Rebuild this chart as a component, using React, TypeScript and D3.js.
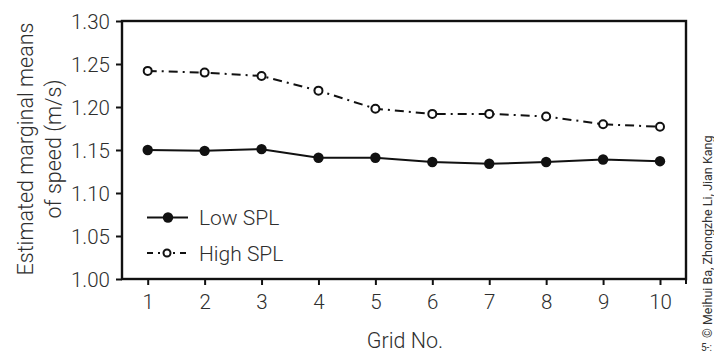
import React, { useEffect, useRef } from "react";
import * as d3 from "d3";

const grids = [1, 2, 3, 4, 5, 6, 7, 8, 9, 10];
const lowSPL = [1.150, 1.149, 1.151, 1.141, 1.141, 1.136, 1.134, 1.136, 1.139, 1.137];
const highSPL = [1.242, 1.240, 1.236, 1.219, 1.198, 1.192, 1.192, 1.189, 1.180, 1.177];
const yTicks = [1.0, 1.05, 1.1, 1.15, 1.2, 1.25, 1.3];
const legendLabels = ["Low SPL", "High SPL"];

const W = 714;
const H = 353;
const ink = "#111";
const txt = "#2e2e2e";
const font = "Roboto, 'DejaVu Sans', sans-serif";
const fw = 300;

export default function App() {
  const ref = useRef<SVGSVGElement>(null);

  useEffect(() => {
    const svg = d3.select(ref.current);
    svg.selectAll("*").remove();

    const left = 122, right = 686, top = 21, bottom = 279;

    const x = d3.scaleLinear().domain([1, 10]).range([147.7, 660]);
    const y = d3.scaleLinear().domain([1.0, 1.3]).range([bottom, top]);

    // frame
    svg.append("rect")
      .attr("x", left).attr("y", top)
      .attr("width", right - left).attr("height", bottom - top)
      .attr("fill", "none").attr("stroke", ink).attr("stroke-width", 2.4);

    // y axis ticks
    const yAxis = svg.append("g")
      .attr("transform", `translate(${left},0)`)
      .call(d3.axisLeft(y).tickValues(yTicks).tickFormat(d3.format(".2f")).tickSize(6).tickPadding(6));
    yAxis.select(".domain").remove();
    yAxis.selectAll("line").attr("stroke", ink).attr("stroke-width", 2);
    yAxis.selectAll("text")
      .attr("fill", txt).attr("font-size", 20.5).attr("font-weight", fw)
      .attr("font-family", font).attr("dy", "0.36em");

    // x axis ticks
    const xAxis = svg.append("g")
      .attr("transform", `translate(0,${bottom})`)
      .call(d3.axisBottom(x).tickValues(grids).tickFormat(d3.format("d")).tickSize(6).tickPadding(9));
    xAxis.select(".domain").remove();
    xAxis.selectAll("line").attr("stroke", ink).attr("stroke-width", 2);
    xAxis.selectAll("text")
      .attr("fill", txt).attr("font-size", 20.5).attr("font-weight", fw).attr("font-family", font);
    svg.append("line")
      .attr("x1", right).attr("x2", right).attr("y1", bottom).attr("y2", bottom + 5)
      .attr("stroke", ink).attr("stroke-width", 2);

    const line = d3.line<number>().x((_, i) => x(grids[i])).y(d => y(d));

    // series
    svg.append("path").datum(highSPL).attr("d", line)
      .attr("fill", "none").attr("stroke", ink).attr("stroke-width", 2)
      .attr("stroke-dasharray", "9,5,2,5");
    svg.append("path").datum(lowSPL).attr("d", line)
      .attr("fill", "none").attr("stroke", ink).attr("stroke-width", 2);

    svg.append("g").selectAll("circle").data(lowSPL).join("circle")
      .attr("cx", (_, i) => x(grids[i])).attr("cy", d => y(d)).attr("r", 5.2)
      .attr("fill", ink);
    svg.append("g").selectAll("circle").data(highSPL).join("circle")
      .attr("cx", (_, i) => x(grids[i])).attr("cy", d => y(d)).attr("r", 4)
      .attr("fill", "#fff").attr("stroke", ink).attr("stroke-width", 2);

    // legend
    const lg = svg.append("g");
    const rows = [217.5, 253];
    lg.append("line").attr("x1", 147).attr("x2", 188).attr("y1", rows[0]).attr("y2", rows[0])
      .attr("stroke", ink).attr("stroke-width", 2);
    lg.append("circle").attr("cx", 168).attr("cy", rows[0]).attr("r", 5.2).attr("fill", ink);
    lg.append("line").attr("x1", 147).attr("x2", 186).attr("y1", rows[1]).attr("y2", rows[1])
      .attr("stroke", ink).attr("stroke-width", 2).attr("stroke-dasharray", "6,5,2,13,2,5");
    lg.append("circle").attr("cx", 167).attr("cy", rows[1]).attr("r", 3.5)
      .attr("fill", "#fff").attr("stroke", ink).attr("stroke-width", 2);
    legendLabels.forEach((t, i) => {
      lg.append("text").attr("x", 199).attr("y", rows[i]).attr("dy", "0.36em")
        .attr("fill", txt).attr("font-size", 21).attr("font-weight", fw)
        .attr("font-family", font).text(t);
    });

    // axis titles
    svg.append("text")
      .attr("transform", "translate(33,149) rotate(-90)")
      .attr("text-anchor", "middle").attr("fill", txt)
      .attr("font-size", 21.5).attr("font-weight", fw).attr("font-family", font)
      .text("Estimated marginal means");
    svg.append("text")
      .attr("transform", "translate(61,149) rotate(-90)")
      .attr("text-anchor", "middle").attr("fill", txt)
      .attr("font-size", 21.5).attr("font-weight", fw).attr("font-family", font)
      .text("of speed (m/s)");
    svg.append("text")
      .attr("x", 405).attr("y", 348)
      .attr("text-anchor", "middle").attr("fill", txt)
      .attr("font-size", 21.5).attr("font-weight", fw).attr("font-family", font)
      .text("Grid No.");

    // credit
    svg.append("text")
      .attr("transform", "translate(712,338) rotate(-90)")
      .attr("fill", "#333").attr("font-size", 12.5).attr("font-family", font)
      .text("© Meihui Ba, Zhongzhe Li, Jian Kang");
    svg.append("text")
      .attr("x", 701).attr("y", 351)
      .attr("fill", "#333").attr("font-size", 10).attr("font-family", font)
      .text("5-:");
  }, []);

  return (
    <div style={{ position: "absolute", left: 0, top: 0 }}>
      <svg ref={ref} width={W} height={H} style={{ display: "block", background: "#fff" }} />
    </div>
  );
}
